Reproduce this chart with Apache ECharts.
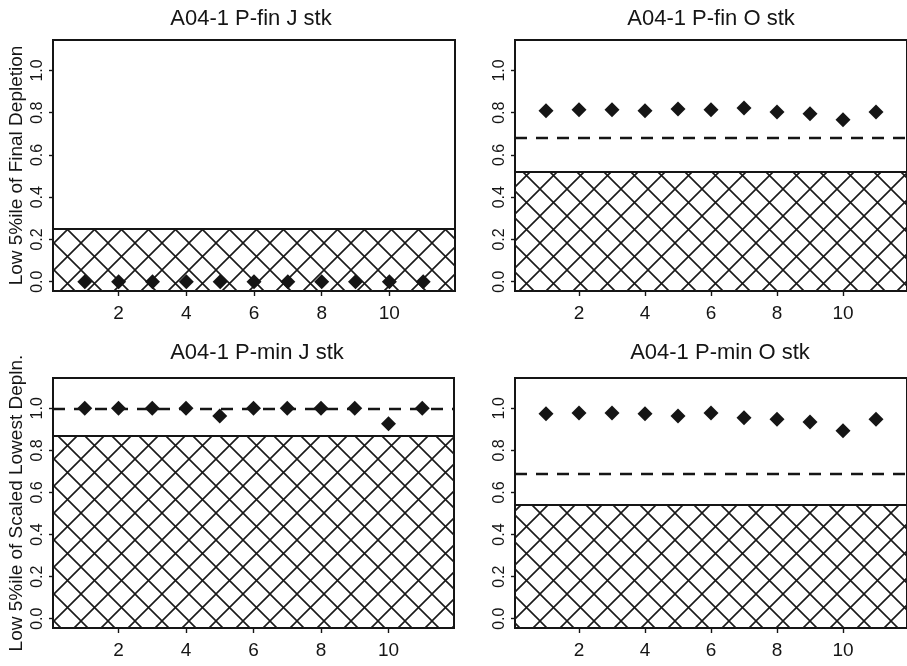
<!DOCTYPE html>
<html>
<head>
<meta charset="utf-8">
<script src="https://cdn.jsdelivr.net/npm/echarts@6/dist/echarts.min.js"></script>
<style>html,body{margin:0;padding:0;background:#fff}#c{width:907px;height:666px}</style>
</head>
<body>
<div id="c"></div>
<script>
// ---- data ----
const years = [1, 2, 3, 4, 5, 6, 7, 8, 9, 10, 11];
const titles = ['A04-1 P-fin J stk', 'A04-1 P-fin O stk', 'A04-1 P-min J stk', 'A04-1 P-min O stk'];
const yNames = ['Low 5%ile of Final Depletion', '', 'Low 5%ile of Scaled Lowest Depln.', ''];
const finJ = [0, 0, 0, 0, 0, 0, 0, 0, 0, 0, 0];
const finO = [0.809, 0.814, 0.814, 0.809, 0.817, 0.814, 0.822, 0.803, 0.795, 0.766, 0.803];
const minJ = [1.0, 1.0, 1.0, 1.0, 0.963, 1.0, 1.0, 1.0, 1.0, 0.927, 1.0];
const minO = [0.974, 0.978, 0.978, 0.974, 0.963, 0.978, 0.955, 0.948, 0.935, 0.893, 0.948];
const hatchTop = [0.248, 0.521, 0.869, 0.537];
const dashLevel = [null, 0.682, 1.0, 0.695];
const xTicks = [2, 4, 6, 8, 10];
const yTicks = [0, 0.2, 0.4, 0.6, 0.8, 1.0];
const seriesVals = [finJ, finO, minJ, minO];

// ---- layout ----
const X_MIN = 0.06, X_MAX = 11.94, Y_MIN = -0.044, Y_MAX = 1.144;
const grids = [
  {left: 53, top: 40, width: 402, height: 251},
  {left: 515, top: 40, width: 401, height: 251},
  {left: 53, top: 378, width: 401, height: 250},
  {left: 515, top: 378, width: 401, height: 250}
];
const titlePos = [
  {x: 251, y: 8}, {x: 711, y: 8}, {x: 257, y: 342}, {x: 720, y: 342}
];
const FONT = 'Liberation Sans, Arial, sans-serif';
const INK = '#151515';

// crosshatch tile
const P = 27;
const tile = document.createElement('canvas');
tile.width = P; tile.height = P;
const tc = tile.getContext('2d');
tc.strokeStyle = '#1a1a1a';
tc.lineWidth = 1.6;
for (let k = -1; k <= 1; k++) {
  tc.beginPath();
  tc.moveTo(k * P, 0); tc.lineTo(k * P + P, P);
  tc.moveTo(k * P + P, 0); tc.lineTo(k * P, P);
  tc.stroke();
}

const option = {
  animation: false,
  backgroundColor: '#fff',
  title: titles.map((t, i) => ({
    text: t, left: titlePos[i].x, top: titlePos[i].y, textAlign: 'center', padding: 0,
    textStyle: {fontFamily: FONT, fontSize: 22, fontWeight: 'normal', color: INK}
  })),
  grid: grids.map(g => Object.assign({show: true, borderColor: INK, borderWidth: 2, backgroundColor: 'transparent'}, g)),
  xAxis: grids.map((g, i) => ({
    type: 'value', gridIndex: i, min: X_MIN, max: X_MAX, position: 'bottom',
    axisLine: {show: false, onZero: false}, splitLine: {show: false},
    axisTick: {show: true, inside: false, length: 5, customValues: xTicks, lineStyle: {color: INK, width: 1.4}},
    axisLabel: {show: true, customValues: xTicks, margin: 13, fontFamily: FONT, fontSize: 19, color: INK}
  })),
  yAxis: grids.map((g, i) => ({
    type: 'value', gridIndex: i, min: Y_MIN, max: Y_MAX, position: 'left',
    name: yNames[i], nameLocation: 'middle', nameRotate: 90, nameGap: 27,
    nameTextStyle: {fontFamily: FONT, fontSize: 19, color: INK},
    axisLine: {show: false, onZero: false}, splitLine: {show: false},
    axisTick: {show: true, inside: false, length: 4, customValues: yTicks, lineStyle: {color: INK, width: 1.4}},
    axisLabel: {show: true, customValues: yTicks, rotate: 90, margin: 7, fontFamily: FONT, fontSize: 16, color: INK,
      formatter: v => v.toFixed(1)}
  })),
  series: seriesVals.map((vals, i) => {
    const lines = [{yAxis: hatchTop[i], lineStyle: {type: 'solid', width: 2, color: INK}}];
    if (dashLevel[i] !== null) lines.push({yAxis: dashLevel[i], lineStyle: {type: [12, 9], width: 2.4, color: INK}});
    return {
      type: 'scatter', xAxisIndex: i, yAxisIndex: i,
      symbol: 'diamond', symbolSize: [15, 15],
      itemStyle: {color: INK, opacity: 1},
      data: years.map((x, j) => [x, vals[j]]),
      z: 5,
      markArea: {
        silent: true,
        itemStyle: {color: {image: tile, repeat: 'repeat'}, opacity: 1, borderWidth: 0},
        data: [[{yAxis: Y_MIN}, {yAxis: hatchTop[i]}]]
      },
      markLine: {
        silent: true, symbol: 'none', label: {show: false}, animation: false,
        data: lines
      }
    };
  })
};

const chart = echarts.init(document.getElementById('c'), null, {renderer: 'canvas'});
chart.setOption(option);
</script>
</body>
</html>
